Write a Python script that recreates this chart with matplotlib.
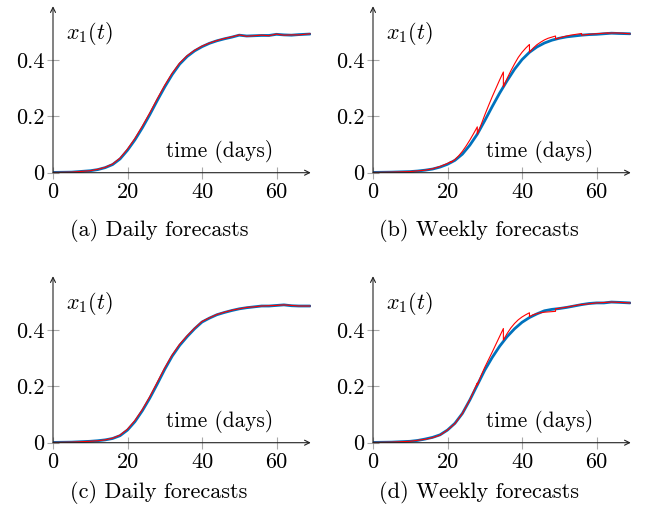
import matplotlib
matplotlib.use("Agg")
import matplotlib.pyplot as plt

plt.rcParams['font.family'] = 'serif'
plt.rcParams['font.serif'] = ['cmr10']
plt.rcParams['mathtext.fontset'] = 'cm'
plt.rcParams['axes.formatter.use_mathtext'] = True

# ---------------- data ----------------
days = [0, 5, 10, 12, 14, 16, 18, 20, 22, 24, 26, 28, 30, 32, 34, 36, 38, 40,
        42, 44, 46, 48, 50, 52, 54, 56, 58, 60, 62, 64, 66, 69]

blue_a = [0.001, 0.002, 0.007, 0.011, 0.018, 0.029, 0.049, 0.080, 0.117, 0.160,
          0.207, 0.257, 0.305, 0.349, 0.386, 0.413, 0.433, 0.448, 0.460, 0.469,
          0.476, 0.482, 0.489, 0.486, 0.487, 0.488, 0.488, 0.492, 0.490, 0.489,
          0.491, 0.493]
red_a = [0.001, 0.002, 0.007, 0.012, 0.019, 0.031, 0.052, 0.084, 0.122, 0.166,
         0.213, 0.263, 0.311, 0.354, 0.390, 0.416, 0.435, 0.450, 0.461, 0.470,
         0.477, 0.483, 0.490, 0.485, 0.487, 0.489, 0.487, 0.493, 0.489, 0.490,
         0.490, 0.494]

blue_b = [0.001, 0.002, 0.004, 0.006, 0.009, 0.013, 0.020, 0.030, 0.044, 0.066,
          0.098, 0.137, 0.185, 0.235, 0.283, 0.327, 0.368, 0.402, 0.428, 0.447,
          0.461, 0.471, 0.478, 0.483, 0.486, 0.489, 0.491, 0.492, 0.494, 0.496,
          0.495, 0.494]
red_b_days = [0, 5, 10, 14, 16, 18, 20, 21,
              21, 22, 23, 24, 25, 26, 27, 28,
              28, 29, 30, 31, 32, 33, 34, 35,
              35, 36, 37, 38, 39, 40, 41, 42,
              42, 43, 44, 45, 46, 47, 48, 49,
              49, 50, 51, 52, 53, 54, 55, 56,
              56, 58, 60, 62, 63,
              63, 65, 67, 69]
red_b = [0.001, 0.002, 0.004, 0.009, 0.014, 0.022, 0.033, 0.040,
         0.037, 0.047, 0.060, 0.076, 0.095, 0.116, 0.139, 0.163,
         0.137, 0.170, 0.205, 0.238, 0.270, 0.300, 0.330, 0.358,
         0.305, 0.335, 0.362, 0.387, 0.410, 0.428, 0.443, 0.456,
         0.428, 0.443, 0.455, 0.464, 0.472, 0.478, 0.482, 0.486,
         0.475, 0.479, 0.483, 0.486, 0.489, 0.491, 0.493, 0.495,
         0.489, 0.492, 0.494, 0.496, 0.497,
         0.496, 0.497, 0.496, 0.494]

blue_c = [0.001, 0.002, 0.005, 0.007, 0.010, 0.015, 0.025, 0.045, 0.075, 0.114,
          0.159, 0.209, 0.261, 0.308, 0.346, 0.377, 0.405, 0.429, 0.443, 0.455,
          0.463, 0.470, 0.476, 0.480, 0.483, 0.486, 0.486, 0.488, 0.490, 0.487,
          0.486, 0.486]
red_c = [0.001, 0.002, 0.005, 0.007, 0.010, 0.016, 0.027, 0.048, 0.079, 0.118,
         0.164, 0.215, 0.266, 0.312, 0.350, 0.380, 0.407, 0.431, 0.444, 0.456,
         0.464, 0.471, 0.476, 0.481, 0.483, 0.486, 0.487, 0.488, 0.490, 0.488,
         0.486, 0.486]

blue_d = [0.001, 0.002, 0.005, 0.008, 0.013, 0.019, 0.028, 0.045, 0.069, 0.104,
          0.152, 0.205, 0.258, 0.303, 0.343, 0.377, 0.405, 0.428, 0.445, 0.458,
          0.469, 0.474, 0.477, 0.481, 0.486, 0.491, 0.495, 0.497, 0.497, 0.500,
          0.499, 0.497]
red_d_days = [0, 5, 10, 14, 16, 18, 20, 22, 24, 26, 28,
              28, 29, 30, 31, 32, 33, 34, 35,
              35, 36, 37, 38, 39, 40, 41, 42,
              42, 43, 44, 45, 46, 47, 48, 49,
              49, 52, 56,
              56, 60, 64, 66, 69]
red_d = [0.001, 0.002, 0.005, 0.012, 0.018, 0.027, 0.045, 0.068, 0.104, 0.153, 0.212,
         0.205, 0.238, 0.268, 0.295, 0.322, 0.350, 0.378, 0.406,
         0.365, 0.388, 0.408, 0.424, 0.437, 0.447, 0.455, 0.462,
         0.448, 0.455, 0.459, 0.462, 0.464, 0.465, 0.466, 0.467,
         0.476, 0.482, 0.492,
         0.491, 0.497, 0.500, 0.499, 0.497]

xticks = [0, 20, 40, 60]
xtick_labels = ['0', '20', '40', '60']
yticks = [0, 0.2, 0.4]
ytick_labels = ['0', '0.2', '0.4']
captions = ['(a) Daily forecasts', '(b) Weekly forecasts',
            '(c) Daily forecasts', '(d) Weekly forecasts']

panels = [
    (days, blue_a, days, red_a),
    (days, blue_b, red_b_days, red_b),
    (days, blue_c, days, red_c),
    (days, blue_d, red_d_days, red_d),
]

# ---------------- layout ----------------
W, H = 646, 517
fig = plt.figure(figsize=(W / 100, H / 100), dpi=100)

FS = 16
FS_IN = 15.3
BLUE = '#0072BD'
RED = '#FF0000'

lefts = [53, 373, 53, 373]
zeros = [172.7, 172.7, 442.7, 442.7]
px_per_day = 3.725
xmax = 69.2
ymax = 0.592
height_px = 166.5
cap_pos = [(159, 231), (479, 231), (159, 492), (479, 492)]

for i, (bx, by, rx, ry) in enumerate(panels):
    l = lefts[i]
    z = zeros[i]
    w_px = xmax * px_per_day
    ax = fig.add_axes([l / W, (H - z) / H, w_px / W, height_px / H])
    ax.set_xlim(0, xmax)
    ax.set_ylim(0, ymax)
    for s in ax.spines.values():
        s.set_visible(False)
    ax.plot(bx, by, color=BLUE, lw=2.0, solid_capstyle='round',
            solid_joinstyle='round', zorder=3)
    ax.plot(rx, ry, color=RED, lw=0.8, zorder=4)

    # axis arrows
    for end in [(1, 0), (0, 1)]:
        ax.annotate('', xy=end, xytext=(0, 0), xycoords='axes fraction',
                    textcoords='axes fraction',
                    arrowprops=dict(arrowstyle='->', color='#222222', lw=0.8,
                                    shrinkA=0, shrinkB=0, mutation_scale=9),
                    zorder=5, annotation_clip=False)

    ax.set_xticks(xticks)
    ax.set_xticklabels(xtick_labels)
    ax.set_yticks(yticks)
    ax.set_yticklabels(ytick_labels)
    ax.tick_params(axis='both', direction='inout', length=8, width=0.8,
                   color='#aaaaaa', labelsize=FS)
    ax.tick_params(axis='x', pad=3.0)
    ax.tick_params(axis='y', pad=2.0)
    for t in ax.get_xticklines() + ax.get_yticklines():
        t.set_zorder(1)

    ax.text(59, 0.056, 'time (days)', fontsize=FS_IN, ha='right', va='baseline')
    ax.text(3.6, 0.496, r'$x_1(t)$', fontsize=FS, ha='left', va='center')

    cx, cy = cap_pos[i]
    fig.text(cx / W, (H - cy) / H, captions[i], fontsize=FS,
             ha='center', va='center')

fig.savefig('out.png', dpi=100)
